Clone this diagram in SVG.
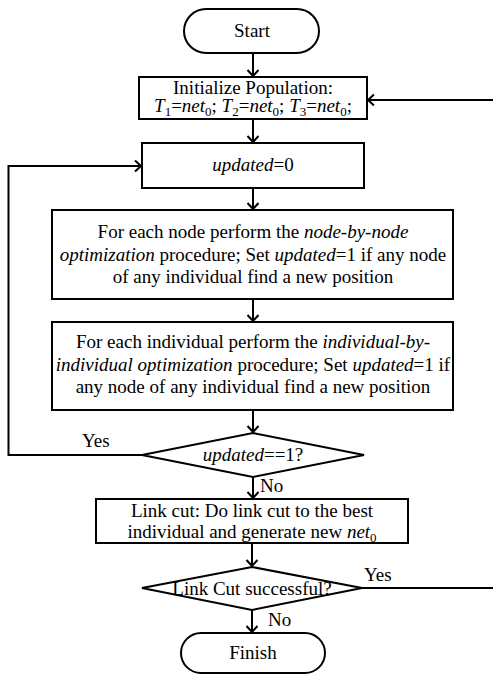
<svg xmlns="http://www.w3.org/2000/svg" width="493" height="675" viewBox="0 0 493 675" font-family="'Liberation Serif', 'Times New Roman', 'DejaVu Serif', serif">
<style>
text{font-family:'Liberation Serif','Times New Roman','DejaVu Serif',serif;font-size:19px;fill:#000}
.s{fill:#fff;stroke:#000;stroke-width:2}
.t{text-anchor:middle}
.i{font-style:italic}
.c{fill:none;stroke:#000;stroke-width:2}
</style>
<defs>
<marker id="a" markerUnits="userSpaceOnUse" markerWidth="14" markerHeight="14" refX="8" refY="6" orient="auto">
<path d="M2,0.5 L8,6 L2,11.5" fill="none" stroke="#000" stroke-width="2"/>
</marker>
</defs>
<g id="connectors">
<path class="c" d="M253,53 V76" marker-end="url(#a)"/>
<path class="c" d="M253,119 V142" marker-end="url(#a)"/>
<path class="c" d="M253,188 V209" marker-end="url(#a)"/>
<path class="c" d="M253,299 V321" marker-end="url(#a)"/>
<path class="c" d="M253,410 V432" marker-end="url(#a)"/>
<path class="c" d="M142,455 H8.5 V166 H141" marker-end="url(#a)"/>
<path class="c" d="M253,477 V498" marker-end="url(#a)"/>
<path class="c" d="M252,543 V566" marker-end="url(#a)"/>
<path class="c" d="M362,588 H493"/>
<path class="c" d="M493,100 H368" marker-end="url(#a)"/>
<path class="c" d="M252,610 V632" marker-end="url(#a)"/>
<text x="82" y="447">Yes</text>
<text x="260" y="492">No</text>
<text x="364" y="581">Yes</text>
<text x="268" y="626">No</text>
</g>
<g id="start">
<rect class="s" x="184" y="9" width="135" height="44" rx="22"/>
<text class="t" x="252" y="37">Start</text>
</g>
<g id="init">
<rect class="s" x="139" y="77" width="228" height="42"/>
<text class="t" x="253" y="94">Initialize Population:</text>
<text class="t" x="253" y="112"><tspan class="i">T</tspan><tspan font-size="13" dy="4">1</tspan><tspan dy="-4">=</tspan><tspan class="i">net</tspan><tspan font-size="13" dy="4">0</tspan><tspan dy="-4">; </tspan><tspan class="i">T</tspan><tspan font-size="13" dy="4">2</tspan><tspan dy="-4">=</tspan><tspan class="i">net</tspan><tspan font-size="13" dy="4">0</tspan><tspan dy="-4">; </tspan><tspan class="i">T</tspan><tspan font-size="13" dy="4">3</tspan><tspan dy="-4">=</tspan><tspan class="i">net</tspan><tspan font-size="13" dy="4">0</tspan><tspan dy="-4">;</tspan></text>
</g>
<g id="reset">
<rect class="s" x="142" y="143" width="222" height="45"/>
<text class="t" x="253" y="171"><tspan class="i">updated</tspan>=0</text>
</g>
<g id="nodeopt">
<rect class="s" x="52" y="210" width="401" height="89"/>
<text class="t" x="253" y="238">For each node perform the <tspan class="i">node-by-node</tspan></text>
<text class="t" x="253" y="261"><tspan class="i">optimization</tspan> procedure; Set <tspan class="i">updated</tspan>=1 if any node</text>
<text class="t" x="253" y="283">of any individual find a new position</text>
</g>
<g id="indopt">
<rect class="s" x="52" y="322" width="401" height="88"/>
<text class="t" x="253" y="348">For each individual perform the <tspan class="i">individual-by-</tspan></text>
<text class="t" x="253" y="371"><tspan class="i">individual optimization</tspan> procedure; Set <tspan class="i">updated</tspan>=1 if</text>
<text class="t" x="253" y="393">any node of any individual find a new position</text>
</g>
<g id="check">
<polygon class="s" points="253,433 364,455 253,477 142,455"/>
<text class="t" x="253" y="461"><tspan class="i">updated</tspan>==1?</text>
</g>
<g id="linkcut">
<rect class="s" x="96" y="499" width="312" height="44"/>
<text class="t" x="252" y="517">Link cut: Do link cut to the best</text>
<text class="t" x="252" y="538">individual and generate new <tspan class="i">net</tspan><tspan font-size="13" dy="4">0</tspan></text>
</g>
<g id="success">
<polygon class="s" points="252,567 362,588 252,610 142,588"/>
<text class="t" x="252" y="595">Link Cut successful?</text>
</g>
<g id="finish">
<rect class="s" x="181" y="633" width="144" height="40" rx="20"/>
<text class="t" x="253" y="659">Finish</text>
</g>
</svg>
